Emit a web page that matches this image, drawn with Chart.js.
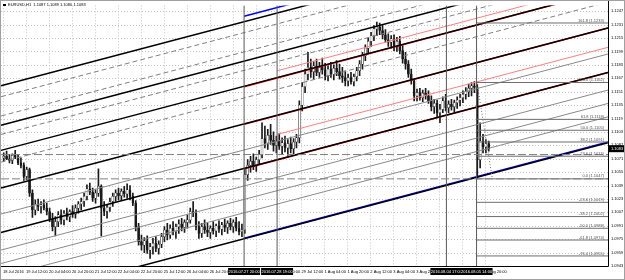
<!DOCTYPE html>
<html>
<head>
<meta charset="utf-8">
<script src="https://cdn.jsdelivr.net/npm/chart.js@4.4.0/dist/chart.umd.min.js"></script>
<style>
  html, body { margin: 0; padding: 0; background: #fff; }
  #wrap { width: 625px; height: 280px; }
</style>
</head>
<body>
<div id="wrap"><canvas id="chart" width="625" height="280"></canvas></div>
<script>
// EURUSD H1, 18 Jul - 5 Aug 2016. x = H1 bar number (bar 0 = 18 Jul 20:00)
const headerText = 'EURUSD,H1  1.1087 1.1089 1.1080 1.1083';
const lastPrice = 1.1083;

const timeTickBars = [0, 16, 32, 48, 64, 80, 96, 112, 128, 144, 160, 176, 192, 208, 224, 240, 256, 272, 288, 304, 320, 336];
const timeLabels = ['18 Jul 2016', '19 Jul 12:00', '20 Jul 04:00', '20 Jul 20:00', '21 Jul 12:00', '22 Jul 04:00',
  '22 Jul 20:00', '25 Jul 12:00', '26 Jul 04:00', '26 Jul 20:00', '27 Jul 12:00', '28 Jul 04:00', '28 Jul 20:00',
  '29 Jul 12:00', '1 Aug 04:00', '1 Aug 20:00', '2 Aug 12:00', '3 Aug 04:00', '3 Aug 20:00', '4 Aug 12:00',
  '5 Aug 04:00', '5 Aug 20:00'];

const priceTicks = [1.0943, 1.0959, 1.0975, 1.0991, 1.1007, 1.1023, 1.1039, 1.1055, 1.1071, 1.1087,
  1.1103, 1.1119, 1.1135, 1.1151, 1.1167, 1.1183, 1.1199, 1.1215, 1.1231, 1.1247];

// one candle per two H1 bars
const opens = [
  1.1072,1.1074,1.1071,1.1069,1.1075,1.1073,1.1066,1.1063,1.1050,1.1058,
  1.1030,1.1010,1.1017,1.1014,1.1016,1.1012,1.1008,1.0999,1.0990,1.0996,
  1.1004,1.0998,1.1006,1.1002,1.1008,1.1005,1.1012,1.1017,1.1020,1.1026,
  1.1035,1.1031,1.1024,1.1030,1.1038,1.1012,1.1008,1.1013,1.1020,1.1026,
  1.1030,1.1027,1.1032,1.1029,1.1034,1.1026,1.1018,1.0990,1.0972,1.0968,
  1.0973,1.0962,1.0966,1.0970,1.0964,1.0969,1.0978,1.0986,1.0980,1.0988,
  1.0984,1.0990,1.0993,1.0989,1.0995,1.0998,1.1008,1.1006,1.0990,1.0982,
  1.0990,1.0986,1.0983,1.0988,1.0985,1.0991,1.0987,1.0992,1.0989,1.0994,
  1.0990,1.0995,1.0988,1.0984,1.0986,1.1052,1.1063,1.1068,1.1062,1.1070,
  1.1076,1.1095,1.1090,1.1099,1.1093,1.1087,1.1092,1.1086,1.1090,1.1084,
  1.1089,1.1083,1.1091,1.1096,1.1135,1.1157,1.1172,1.1180,1.1175,1.1182,
  1.1174,1.1180,1.1177,1.1170,1.1178,1.1172,1.1179,1.1175,1.1170,1.1168,
  1.1164,1.1168,1.1163,1.1169,1.1176,1.1184,1.1194,1.1203,1.1211,1.1218,
  1.1226,1.1228,1.1224,1.1219,1.1213,1.1210,1.1214,1.1205,1.1211,1.1200,
  1.1190,1.1184,1.1172,1.1164,1.1146,1.1150,1.1144,1.1149,1.1146,1.1140,
  1.1133,1.1137,1.1126,1.1130,1.1140,1.1132,1.1136,1.1133,1.1138,1.1141,
  1.1144,1.1148,1.1151,1.1155,1.1158,1.1156,1.1070,1.1092,1.1085,1.1089
];
const highs = [
  1.1078,1.1080,1.1076,1.1077,1.1081,1.1076,1.1072,1.1066,1.1061,1.1060,
  1.1034,1.1022,1.1023,1.1020,1.1022,1.1018,1.1012,1.1006,1.1002,1.1008,
  1.1010,1.1009,1.1012,1.1010,1.1015,1.1016,1.1020,1.1024,1.1030,1.1040,
  1.1042,1.1036,1.1034,1.1059,1.1040,1.1020,1.1016,1.1024,1.1030,1.1034,
  1.1036,1.1035,1.1038,1.1041,1.1039,1.1030,1.1021,1.0994,1.0980,1.0977,
  1.0979,1.0970,1.0976,1.0978,1.0973,1.0982,1.0990,1.0994,1.0992,1.0996,
  1.0993,1.0998,1.1000,1.0998,1.1004,1.1012,1.1020,1.1010,1.0996,1.0994,
  1.0998,1.0994,1.0991,1.0996,1.0993,1.0997,1.0995,1.0999,1.0997,1.1000,
  1.0998,1.1001,1.0996,1.0993,1.1059,1.1070,1.1074,1.1077,1.1073,1.1081,
  1.1114,1.1110,1.1106,1.1112,1.1103,1.1098,1.1101,1.1096,1.1098,1.1094,
  1.1097,1.1095,1.1100,1.1140,1.1162,1.1178,1.1198,1.1190,1.1187,1.1190,
  1.1186,1.1191,1.1185,1.1182,1.1186,1.1183,1.1188,1.1184,1.1180,1.1176,
  1.1172,1.1174,1.1172,1.1180,1.1188,1.1198,1.1207,1.1215,1.1222,1.1230,
  1.1234,1.1233,1.1230,1.1225,1.1220,1.1218,1.1219,1.1216,1.1217,1.1206,
  1.1198,1.1188,1.1178,1.1166,1.1154,1.1155,1.1153,1.1155,1.1152,1.1146,
  1.1142,1.1141,1.1136,1.1145,1.1148,1.1140,1.1142,1.1141,1.1145,1.1148,
  1.1152,1.1156,1.1160,1.1162,1.1163,1.1160,1.1114,1.1100,1.1094,1.1092
];
const lows = [
  1.1068,1.1070,1.1066,1.1065,1.1071,1.1064,1.1060,1.1045,1.1046,1.1026,
  1.1001,1.1004,1.1009,1.1006,1.1010,1.1004,1.0996,1.0985,1.0979,1.0990,
  1.0993,1.0992,1.0998,1.0996,1.1001,1.1000,1.1006,1.1010,1.1014,1.1022,
  1.1028,1.1020,1.1018,1.1026,1.0979,1.1003,1.1000,1.1008,1.1014,1.1020,
  1.1022,1.1021,1.1025,1.1024,1.1022,1.1015,1.0985,1.0968,1.0962,1.0959,
  1.0958,1.0952,1.0957,1.0960,1.0957,1.0965,1.0972,1.0974,1.0976,1.0980,
  1.0976,1.0982,1.0985,1.0983,1.0988,1.0994,1.1002,1.0986,1.0976,1.0977,
  1.0982,1.0978,1.0976,1.0981,1.0978,1.0983,1.0980,1.0984,1.0982,1.0986,
  1.0983,1.0985,1.0980,1.0978,1.0982,1.1045,1.1055,1.1058,1.1056,1.1064,
  1.1072,1.1084,1.1082,1.1088,1.1080,1.1078,1.1082,1.1076,1.1079,1.1075,
  1.1078,1.1077,1.1084,1.1090,1.1128,1.1150,1.1165,1.1168,1.1166,1.1170,
  1.1168,1.1172,1.1165,1.1164,1.1168,1.1165,1.1170,1.1166,1.1162,1.1158,
  1.1158,1.1160,1.1158,1.1164,1.1170,1.1178,1.1188,1.1196,1.1205,1.1212,
  1.1218,1.1219,1.1214,1.1210,1.1205,1.1203,1.1200,1.1199,1.1196,1.1185,
  1.1178,1.1168,1.1160,1.1140,1.1140,1.1141,1.1139,1.1142,1.1137,1.1128,
  1.1125,1.1120,1.1114,1.1126,1.1128,1.1126,1.1129,1.1127,1.1131,1.1134,
  1.1138,1.1142,1.1145,1.1146,1.1150,1.1047,1.1060,1.1078,1.1078,1.1080
];
const closes = [
  1.1074,1.1071,1.1069,1.1075,1.1073,1.1066,1.1063,1.1050,1.1058,1.1030,
  1.1010,1.1017,1.1014,1.1016,1.1012,1.1008,1.0999,1.0990,1.0996,1.1004,
  1.0998,1.1006,1.1002,1.1008,1.1005,1.1012,1.1017,1.1020,1.1026,1.1035,
  1.1031,1.1024,1.1030,1.1038,1.1012,1.1008,1.1013,1.1020,1.1026,1.1030,
  1.1027,1.1032,1.1029,1.1034,1.1026,1.1018,1.0990,1.0972,1.0968,1.0973,
  1.0962,1.0966,1.0970,1.0964,1.0969,1.0978,1.0986,1.0980,1.0988,1.0984,
  1.0990,1.0993,1.0989,1.0995,1.0998,1.1008,1.1006,1.0990,1.0982,1.0990,
  1.0986,1.0983,1.0988,1.0985,1.0991,1.0987,1.0992,1.0989,1.0994,1.0990,
  1.0995,1.0988,1.0984,1.0986,1.1052,1.1063,1.1068,1.1062,1.1070,1.1076,
  1.1095,1.1090,1.1099,1.1093,1.1087,1.1092,1.1086,1.1090,1.1084,1.1089,
  1.1083,1.1091,1.1096,1.1135,1.1157,1.1172,1.1180,1.1175,1.1182,1.1174,
  1.1180,1.1177,1.1170,1.1178,1.1172,1.1179,1.1175,1.1170,1.1168,1.1164,
  1.1168,1.1163,1.1169,1.1176,1.1184,1.1194,1.1203,1.1211,1.1218,1.1226,
  1.1228,1.1224,1.1219,1.1213,1.1210,1.1214,1.1205,1.1211,1.1200,1.1190,
  1.1184,1.1172,1.1164,1.1146,1.1150,1.1144,1.1149,1.1146,1.1140,1.1133,
  1.1137,1.1126,1.1130,1.1140,1.1132,1.1136,1.1133,1.1138,1.1141,1.1144,
  1.1148,1.1151,1.1155,1.1158,1.1156,1.1070,1.1092,1.1085,1.1089,1.1083
];

// channel / pitchfork trend lines (anchor bar and price at each end)
const trendFromBar   = [-1.4,-1.4,-1.4,-1.4,-1.4,-1.4,-1.4,-1.4,-1.4,-1.4,-1.4,-1.4,-1.4,-1.4, 168,168,168,168,168, 191,191];
const trendFromPrice = [1.1158,1.1145,1.1122,1.1111,1.1100,1.1081,1.1067,1.1036,1.1005,1.0983,1.0962,1.0946,1.0930,1.0899,
  1.1241,1.1157,1.1112,1.1059,1.0976, 1.1176,1.1100];
const trendToBar     = [421.6,421.6,421.6,421.6,421.6,421.6,421.6,421.6,421.6,421.6,421.6,421.6,421.6,421.6, 421.6,421.6,421.6,421.6,421.6, 421.6,421.6];
const trendToPrice   = [1.1349,1.1336,1.1313,1.1302,1.1291,1.1272,1.1258,1.1227,1.1196,1.1174,1.1153,1.1137,1.1121,1.1090,
  1.1356,1.1272,1.1227,1.1174,1.1091, 1.1280,1.1204];
const trendKind = ['black','dash','dash','black','dash','black','dash','black','thin','black','thin','thin','thin','black',
  'blue','red','red','red','blue', 'salmon','salmon'];

// horizontal support / resistance levels
const levelPrices = [1.1076, 1.1047];

// vertical event lines
const vlineBars = [168, 191, 309, 330];
const vlineLabels = ['2016.07.27 20:00', '2016.07.28 19:00', '2016.08.04 17:00', '2016.08.05 14:00'];

// Fibonacci object (high at bar 330, low at bar 341)
const fibFromBar = 330;
const fibAnchors = [[330.5, 1.1160], [341, 1.1047]];
const fibNames  = ['161.8', '100.0', '61.8', '50.0', '38.2', '23.6', '0.0', '-23.6', '-38.2', '-50.0', '-61.8', '-76.4'];
const fibPrices = [1.1233, 1.1162, 1.1118, 1.1105, 1.1091, 1.1074, 1.1047, 1.1019, 1.1002, 1.0988, 1.0974, 1.0955];

const X_MIN = -1.4, X_MAX = 421.6;
const Y_MIN = 1.0943, Y_MAX = 1.1254;
const FONT = '"Liberation Sans", Arial, sans-serif';
const SMALL = '4px ' + FONT;

const styles = {
  black:  { color: '#000000', width: 1.5, dash: [] },
  dash:   { color: '#808080', width: 1, dash: [5, 3] },
  thin:   { color: '#8a8a8a', width: 1, dash: [] },
  red:    { color: '#ff0000', width: 1.5, dash: [] },
  salmon: { color: '#ff8080', width: 1, dash: [] },
  blue:   { color: '#0000ff', width: 1.5, dash: [] }
};

function lineSet(points, color, width, dash) {
  return {
    type: 'line', data: points, borderColor: color, borderWidth: width, borderDash: dash || [],
    pointRadius: 0, fill: false, tension: 0, order: 1
  };
}

const datasets = [];

levelPrices.forEach(p => {
  datasets.push(lineSet([{ x: X_MIN, y: p }, { x: X_MAX, y: p }], '#808080', 1, [8, 3]));
});

vlineBars.forEach(b => {
  datasets.push(lineSet([{ x: b, y: Y_MIN }, { x: b, y: Y_MAX }], '#5a5a5a', 1));
});

fibPrices.forEach(p => {
  datasets.push(lineSet([{ x: fibFromBar, y: p }, { x: X_MAX, y: p }], '#6e6e6e', 1));
});
datasets.push(lineSet(fibAnchors.map(a => ({ x: a[0], y: a[1] })), '#707070', 1, [1, 2]));

trendKind.forEach((kind, i) => {
  const s = styles[kind];
  datasets.push(lineSet([{ x: trendFromBar[i], y: trendFromPrice[i] }, { x: trendToBar[i], y: trendToPrice[i] }],
    s.color, s.width, s.dash));
});

const candleX = closes.map((_, i) => i * 2 + 0.5);

datasets.push({
  type: 'bar', order: 5, grouped: false, barThickness: 1,
  data: candleX.map((x, i) => ({ x: x, y: [lows[i], highs[i]] })),
  backgroundColor: '#1a1a1a'
});
datasets.push({
  type: 'bar', order: 4, grouped: false, barThickness: 2,
  data: candleX.map((x, i) => ({ x: x, y: [opens[i], closes[i]] })),
  backgroundColor: closes.map((c, i) => c >= opens[i] ? '#ffffff' : '#1a1a1a'),
  borderColor: '#1a1a1a', borderWidth: 0.5, borderSkipped: false
});

const mt4Grid = {
  id: 'mt4Grid',
  beforeDatasetsDraw(chart) {
    const { ctx, chartArea: a, scales: { x, y } } = chart;
    ctx.save();
    ctx.strokeStyle = '#c4c4c4';
    ctx.lineWidth = 1;
    ctx.setLineDash([1, 2]);
    timeTickBars.forEach(b => {
      const px = Math.round(x.getPixelForValue(b)) + 0.5;
      ctx.beginPath(); ctx.moveTo(px, a.top); ctx.lineTo(px, a.bottom); ctx.stroke();
    });
    priceTicks.forEach(v => {
      const py = Math.round(y.getPixelForValue(v)) + 0.5;
      ctx.beginPath(); ctx.moveTo(a.left, py); ctx.lineTo(a.right, py); ctx.stroke();
    });
    ctx.restore();
  }
};

const mt4Overlay = {
  id: 'mt4Overlay',
  afterDraw(chart) {
    const { ctx, chartArea: a, scales: { x, y } } = chart;
    ctx.save();
    // frame
    ctx.strokeStyle = '#000000';
    ctx.lineWidth = 1;
    ctx.beginPath();
    ctx.moveTo(a.right + 0.5, 0); ctx.lineTo(a.right + 0.5, a.bottom + 0.5); ctx.lineTo(0, a.bottom + 0.5);
    ctx.stroke();
    ctx.strokeStyle = '#a0a0a0';
    ctx.strokeRect(0.5, 0.5, chart.width - 1, chart.height - 1);

    // header
    ctx.font = SMALL;
    ctx.fillStyle = '#000000';
    ctx.textBaseline = 'middle';
    ctx.textAlign = 'left';
    ctx.fillRect(3, 4, 3, 2);
    ctx.fillText(headerText, 8, 5);

    // fib level captions
    ctx.fillStyle = '#505050';
    ctx.textAlign = 'right';
    ctx.textBaseline = 'bottom';
    fibPrices.forEach((p, i) => {
      ctx.fillText(fibNames[i] + ' (' + p.toFixed(4) + ')', a.right - 4, y.getPixelForValue(p) - 0.5);
    });

    // event line captions on time axis
    ctx.textAlign = 'center';
    ctx.textBaseline = 'middle';
    vlineBars.forEach((b, i) => {
      const px = x.getPixelForValue(b);
      ctx.fillStyle = '#000000';
      ctx.fillRect(px - 16, a.bottom + 2, 32, 7);
      ctx.fillStyle = '#ffffff';
      ctx.fillText(vlineLabels[i], px, a.bottom + 5.5);
    });

    // last price marker
    const py = y.getPixelForValue(lastPrice);
    ctx.fillStyle = '#000000';
    ctx.fillRect(a.right + 1, py - 3.5, chart.width - a.right - 2, 7);
    ctx.fillStyle = '#ffffff';
    ctx.textAlign = 'left';
    ctx.fillText(lastPrice.toFixed(4), a.right + 3, py);
    ctx.restore();
  }
};

new Chart(document.getElementById('chart'), {
  type: 'bar',
  data: { datasets: datasets },
  options: {
    responsive: false,
    animation: false,
    events: [],
    layout: { padding: 0 },
    plugins: { legend: { display: false }, tooltip: { enabled: false } },
    scales: {
      x: {
        type: 'linear', min: X_MIN, max: X_MAX, offset: false,
        grid: { display: false, drawTicks: false, offset: false }, border: { display: false },
        afterBuildTicks: s => { s.ticks = timeTickBars.map(v => ({ value: v })); },
        afterFit: s => { s.height = 14; },
        ticks: {
          autoSkip: false, maxRotation: 0, align: 'start', padding: 3,
          color: '#000000', font: { size: 4, family: FONT },
          callback: v => timeLabels[timeTickBars.indexOf(v)]
        }
      },
      y: {
        type: 'linear', position: 'right', min: Y_MIN, max: Y_MAX,
        grid: { display: false, drawTicks: false }, border: { display: false },
        afterBuildTicks: s => { s.ticks = priceTicks.map(v => ({ value: v })); },
        afterFit: s => { s.width = 17; },
        ticks: {
          autoSkip: false, padding: 3,
          color: '#000000', font: { size: 4, family: FONT },
          callback: v => v.toFixed(4)
        }
      }
    }
  },
  plugins: [mt4Grid, mt4Overlay]
});
</script>
</body>
</html>
